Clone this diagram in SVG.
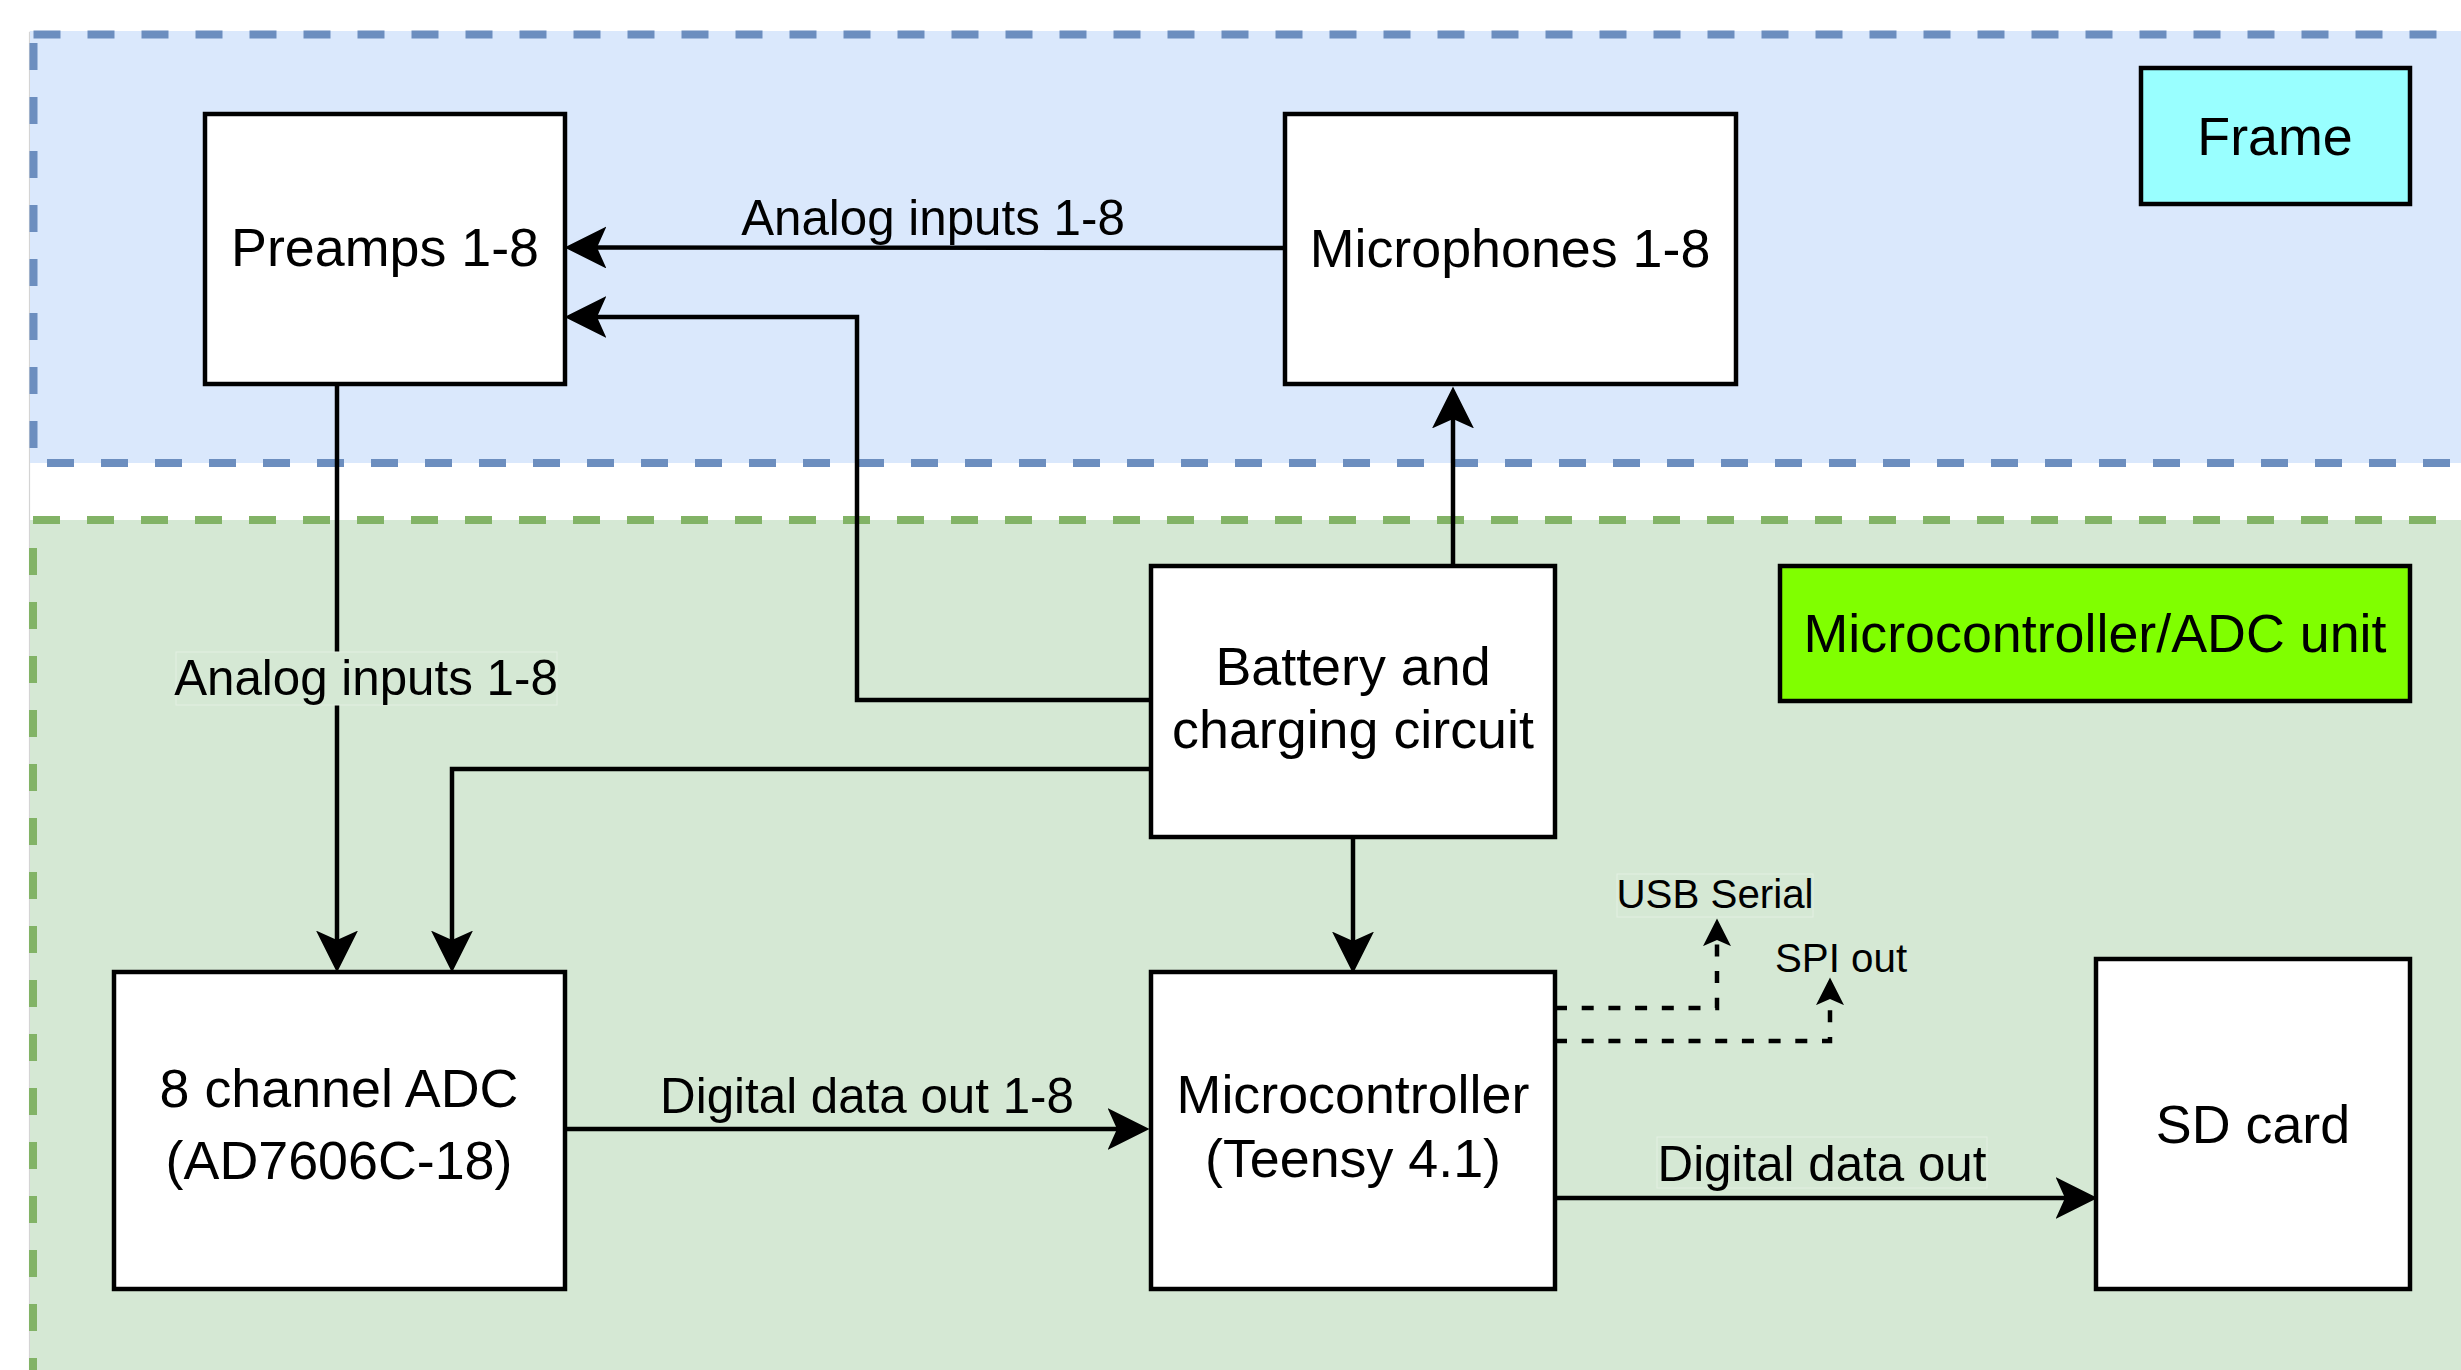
<svg xmlns="http://www.w3.org/2000/svg" width="2461" height="1370" viewBox="0 0 2461 1370">
<defs>
<style>
.node{fill:#ffffff;stroke:#000000;stroke-width:4.48}
.t{font-family:"Liberation Sans",Arial,sans-serif;fill:#000000;text-anchor:middle}
.n{font-size:53.8px}
.e{font-size:49.3px}
.s{font-size:40.3px}
.edge{fill:none;stroke:#000000;stroke-width:4.48}
.dash{fill:none;stroke:#000000;stroke-width:4.48;stroke-dasharray:12 14.7}
.lblbg{fill:#d5e8d4;stroke:#e3efe2;stroke-width:1}
</style>
<marker id="arr" markerUnits="userSpaceOnUse" markerWidth="42" markerHeight="42" viewBox="0 0 40 40" refX="9" refY="20" orient="auto">
<path d="M40,20 L0,0 L9,20 L0,40 Z" fill="#000000"/>
</marker>
<marker id="arrs" markerUnits="userSpaceOnUse" markerWidth="28" markerHeight="28" viewBox="0 0 27 27.4" refX="6" refY="13.7" orient="auto">
<path d="M27,13.7 L0,0 L6,13.7 L0,27.4 Z" fill="#000000"/>
</marker>
</defs>

<rect x="0" y="0" width="2461" height="1370" fill="#ffffff"/>
<g id="page-border" fill="none" stroke="#d4d4d4" stroke-width="1.2">
<line x1="29.5" y1="32" x2="2461" y2="32"/>
<line x1="29.5" y1="32" x2="29.5" y2="1370"/>
</g>

<g id="frame-container">
<rect x="30" y="31" width="2440" height="432" fill="#dae8fc"/>
<g fill="none" stroke="#6c8ebf" stroke-width="8" stroke-dasharray="27 27">
<line x1="33.5" y1="34.5" x2="2470" y2="34.5"/>
<line x1="33.5" y1="43" x2="33.5" y2="463"/>
<line x1="47" y1="463" x2="2470" y2="463"/>
</g>
</g>

<g id="unit-container">
<rect x="30" y="520" width="2440" height="860" fill="#d5e8d4"/>
<g fill="none" stroke="#82b366" stroke-width="8" stroke-dasharray="27 27">
<line x1="33" y1="520" x2="2470" y2="520"/>
<line x1="33" y1="521" x2="33" y2="1380" stroke-dashoffset="-27"/>
</g>
</g>

<g id="connectors">
<g id="mic-preamps">
<path class="edge" d="M1285,248 L597,247.5" marker-end="url(#arr)"/>
<text class="t e" x="933" y="235">Analog inputs 1-8</text>
</g>
<path id="batt-preamps" class="edge" d="M1151,700 H857 V317 H597" marker-end="url(#arr)"/>
<path id="batt-mic" class="edge" d="M1453,566 V419" marker-end="url(#arr)"/>
<path id="batt-adc" class="edge" d="M1151,769 H452 V940" marker-end="url(#arr)"/>
<g id="preamps-adc">
<path class="edge" d="M337,384 V940" marker-end="url(#arr)"/>
<rect class="lblbg" x="176" y="652" width="381" height="53"/>
<text class="t e" x="366" y="695">Analog inputs 1-8</text>
</g>
<path id="batt-micro" class="edge" d="M1353,837 V941" marker-end="url(#arr)"/>
<g id="adc-micro">
<path class="edge" d="M565,1129 H1117" marker-end="url(#arr)"/>
<text class="t e" x="867" y="1113">Digital data out 1-8</text>
</g>
<g id="micro-sd">
<path class="edge" d="M1555,1198 H2065" marker-end="url(#arr)"/>
<rect class="lblbg" x="1657" y="1137" width="330" height="51"/>
<text class="t e" x="1822" y="1181">Digital data out</text>
</g>
<g id="micro-usb">
<path class="dash" d="M1555,1008 H1717 V940" marker-end="url(#arrs)"/>
<rect class="lblbg" x="1617" y="874" width="196" height="43"/>
<text class="t s" x="1715" y="908">USB Serial</text>
</g>
<g id="micro-spi">
<path class="dash" d="M1555,1041 H1830 V999" marker-end="url(#arrs)"/>
<text class="t s" x="1841" y="972">SPI out</text>
</g>
</g>

<g id="preamps">
<rect class="node" x="205" y="114" width="360" height="270"/>
<text class="t n" x="385" y="266">Preamps 1-8</text>
</g>
<g id="microphones">
<rect class="node" x="1285" y="114" width="451" height="270"/>
<text class="t n" x="1510" y="267">Microphones 1-8</text>
</g>
<g id="frame-label">
<rect class="node" x="2141" y="68" width="269" height="136" style="fill:#99ffff"/>
<text class="t n" x="2275" y="155">Frame</text>
</g>
<g id="unit-label">
<rect class="node" x="1780" y="566" width="630" height="135" style="fill:#80ff00"/>
<text class="t n" x="2095" y="652">Microcontroller/ADC unit</text>
</g>
<g id="battery">
<rect class="node" x="1151" y="566" width="404" height="271"/>
<text class="t n" x="1353" y="685">Battery and</text>
<text class="t n" x="1353" y="748">charging circuit</text>
</g>
<g id="adc">
<rect class="node" x="114" y="972" width="451" height="317"/>
<text class="t n" x="339" y="1107">8 channel ADC</text>
<text class="t n" x="339" y="1179">(AD7606C-18)</text>
</g>
<g id="microcontroller">
<rect class="node" x="1151" y="972" width="404" height="317"/>
<text class="t n" x="1353" y="1113">Microcontroller</text>
<text class="t n" x="1353" y="1177">(Teensy 4.1)</text>
</g>
<g id="sdcard">
<rect class="node" x="2096" y="959" width="314" height="330"/>
<text class="t n" x="2253" y="1143">SD card</text>
</g>
</svg>
